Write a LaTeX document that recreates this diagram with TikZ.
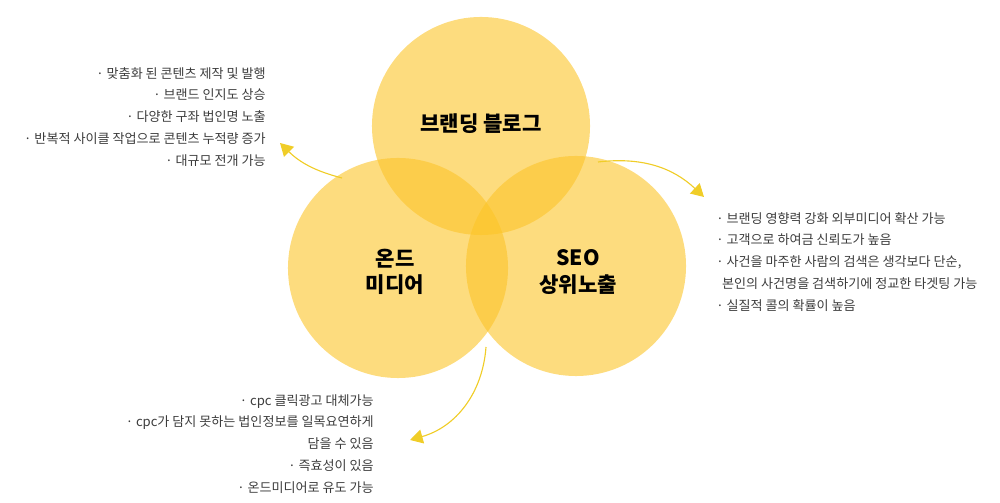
\documentclass[tikz,border=0pt]{standalone}
\usepackage{fontspec}
\setmainfont{Noto Sans CJK KR}
\usetikzlibrary{arrows.meta}
\definecolor{circ}{RGB}{252,196,40}
\definecolor{arr}{RGB}{240,205,40}
\definecolor{txt}{RGB}{60,60,60}
\tikzset{
  bub/.style={circle,fill=circ,fill opacity=0.6,minimum size=#1,inner sep=0pt},
  ttl/.style={font=\fontsize{15}{19}\selectfont\bfseries,text=black,align=center},
  lst/.style={font=\fontsize{9.3}{15.5}\selectfont,text=txt,inner sep=0pt},
  conn/.style={arr,line width=0.8pt,-{Triangle[length=9pt,width=10pt]}}
}
\begin{document}
\begin{tikzpicture}[x=0.025cm,y=-0.025cm]
\useasboundingbox (0,0) rectangle (1000,503);
\node[bub=5.45cm] (top) at (481,126) {};
\node[bub=5.5cm] (left) at (398,268) {};
\node[bub=5.5cm] (right) at (576,266) {};
\node[ttl] (t1) at (481,124) {브랜딩 블로그};
\node[ttl] (t2) at (395,272) {온드\\미디어};
\node[ttl] (t3) at (578,272) {SEO\\상위노출};
\node[lst,align=right,anchor=north east] (L) at (266,67) {· 맞춤화 된 콘텐츠 제작 및 발행\\· 브랜드 인지도 상승\\· 다양한 구좌 법인명 노출\\· 반복적 사이클 작업으로 콘텐츠 누적량 증가\\· 대규모 전개 가능};
\node[lst,align=left,anchor=north west] (R) at (716,212) {· 브랜딩 영향력 강화 외부미디어 확산 가능\\· 고객으로 하여금 신뢰도가 높음\\· 사건을 마주한 사람의 검색은 생각보다 단순,\\\ \ 본인의 사건명을 검색하기에 정교한 타겟팅 가능\\· 실질적 콜의 확률이 높음};
\node[lst,align=right,anchor=north east] (B) at (374,394) {· cpc 클릭광고 대체가능\\· cpc가 담지 못하는 법인정보를 일목요연하게\\담을 수 있음\\· 즉효성이 있음\\· 온드미디어로 유도 가능};
\coordinate (a1) at (342,178);
\coordinate (h1) at (280,143);
\coordinate (a2) at (598,162);
\coordinate (h2) at (704,197);
\coordinate (a3) at (486,347);
\coordinate (h3) at (410,440);
\draw[conn] (a1) to[bend left=15] (h1);
\draw[conn] (a2) to[bend left=25] (h2);
\draw[conn] (a3) to[bend left=35] (h3);
\end{tikzpicture}
\end{document}
